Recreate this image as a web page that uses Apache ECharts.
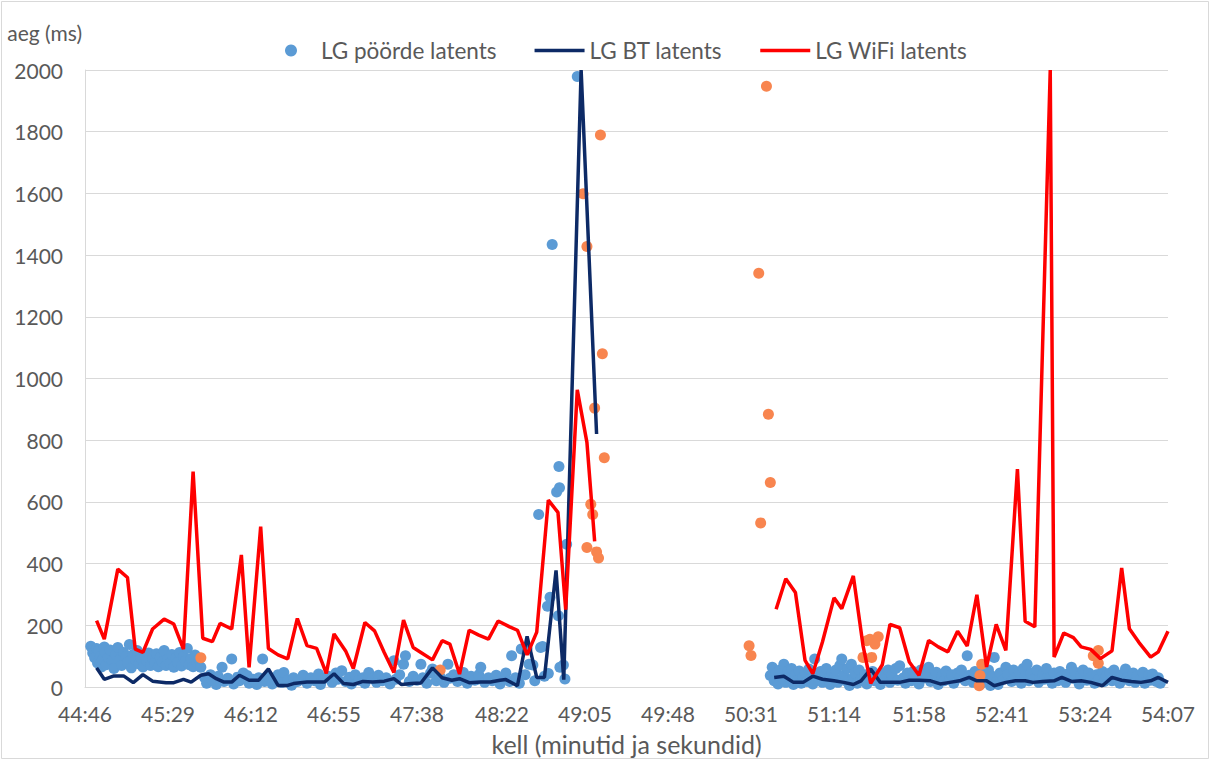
<!DOCTYPE html>
<html>
<head>
<meta charset="utf-8">
<script src="https://cdn.jsdelivr.net/npm/echarts@6/dist/echarts.min.js"></script>
<style>html,body{margin:0;padding:0;background:#fff}#c{width:1211px;height:761px}</style>
</head>
<body>
<div id="c"></div>
<script>
// x values are seconds after 44:46
const tickLabels = ['44:46','45:29','46:12','46:55','47:38','48:22','49:05','49:48','50:31','51:14','51:58','52:41','53:24','54:07'];
const yTicks = {min: 0, max: 2000, step: 200};

const poordeLatents = [
[3,132],[4,110],[5,95],[6,125],[6.5,78],[7,118],[8,100],[8.5,65],[9,88],[10,130],[10.5,112],[11,72],[12,95],[13,120],[14,85],[15,60],[16,105],[17,128],[18,90],[19,70],[20,112],[21,98],[22,80],[23,138],[24,62],[25,105],[26,88],[27,118],[28,75],[29,95],[30,65],[31,102],[32,85],[33,110],[34,70],[35,92],[36,78],[37,108],[38,66],[39,96],[40,82],[41,118],[42,70],[43,90],[44,76],[45,105],[46,64],[47,94],[48,80],[49,112],[50,68],[51,98],[52,84],[53,125],[54,72],[55,92],[56,66],[57,104],[58,80],[59,90],[60,64],
[62,30],[63,12],[65,40],[66,22],[68,8],[69,35],[71,64],[72,18],[74,28],[76,91],[77,10],[79,32],[80,20],[82,45],[84,37],[85,12],[87,25],[89,8],[90,30],[92,91],[93,18],[95,35],[97,10],[98,26],[100,40],[102,15],[103,47],[105,22],[107,6],[108,30],[110,18],[112,26],[113,38],[115,12],[117,30],[119,20],[121,42],[122,8],[124,28],[126,35],[128,15],[130,45],[131,25],[133,53],[135,18],[137,32],[138,10],[140,40],[142,22],[144,30],[145,12],[147,47],[149,28],[151,15],[152,38],[154,20],[156,30],[158,10],[160,85],[161,25],[163,40],[165,74],[166,101],[168,18],[170,35],[172,22],[174,74],[175,30],[177,12],[179,45],[180,58],[182,20],[184,32],[186,15],[188,74],[189,28],[191,40],[193,18],[195,30],[196,47],[198,12],[200,35],[202,22],[204,40],[205,64],[207,15],[209,30],[211,20],[213,38],[215,10],[216,28],[218,45],[220,18],[221,101],[223,30],[225,12],[226,123],[228,40],[229,124],[230,74],[232,71],[233,20],[235,559],[236,128],[237,131],[238,35],
[240,44],[239.6,262],[240.9,291],[242,1434],[244.3,632],[245.2,231],[245.5,715],[245.8,646],[246,64],[247.8,71],[248.6,26],[249.5,463],[255,1979],
[355,37],[356,64],[357,20],[358,45],[359,10],[360,55],[361,30],[362,74],[363,15],[364,50],[365,28],[366,60],[367,8],[368,40],[369,22],[370,52],[371,12],[372,35],[373,45],[374,18],[375,58],[376,28],[377,10],[378,91],[379,40],[380,22],[381,50],[382,15],[383,35],[384,60],[385,25],[386,8],[387,45],[388,30],[389,55],[390,15],[391,70],[392,91],[393,38],[394,20],[395,60],[396,5],[397,74],[398,30],[399,45],[400,12],[401,55],[402,25],[404,40],[405,10],[406,30],[408,50],[409,20],[410,35],[412,8],[413,45],[414,25],[416,55],[417,15],[418,38],[420,60],[421,22],[422,69],[424,30],[425,12],[426,45],[428,20],[429,50],[430,35],[432,10],[433,55],[434,28],[436,40],[437,64],[438,18],[440,30],[441,48],[442,8],[444,35],[445,20],[446,52],[448,25],[449,40],[450,12],[452,45],[453,30],[454,55],[456,20],[457,101],[458,38],[460,15],[461,50],[462,28],[464,10],[465,42],[466,22],[468,55],[469,5],[470,35],[471,96],[472,15],[473,8],[474,45],[476,25],[477,64],[478,40],[480,18],[481,55],[482,30],[484,48],[485,12],[486,60],[487,35],[488,74],[489,20],[490,45],[492,28],[493,55],[494,15],[496,40],[497,25],[498,60],[500,30],[501,12],[502,45],[504,20],[505,50],[506,35],[508,15],[509,42],[511,64],[512,28],[513,48],[515,10],[516,38],[517,55],[519,22],[520,45],[521,30],[523,12],[524,40],[525,25],[527,50],[528,18],[529,35],[531,45],[532,20],[533,55],[535,28],[536,12],[537,40],[539,58],[540,30],[541,20],[543,45],[544,15],[545,35],[547,25],[548,48],[549,12],[551,38],[552,22],[553,42],[555,18],[556,30],[557,12]
];

const poordeLisapunktid = [
[60,95],[184,55],[258,1599],[260,1428],[267,1789],[268,1080],[264,904],[269,743],[262,592],[263,559],[260,452],[265,438],[266,418],
[353,1947],[349,1341],[354,884],[355,663],[350,532],[344,134],[345,102],
[403,96],[407.5,96],[406.6,155],[410.9,163],[409.2,139],[404.9,150],
[464.5,74],[463.6,37],[463.2,4],[522.3,101],[524.9,118],[524.9,77]
];

const btLatents = [
[6,62],[10,25],[15,36],[20,36],[25,14],[30,40],[35,19],[42,14],[46,14],[51,25],[55,16],[60,38],[64,43],[68,27],[72,16],[76,16],[80,38],[85,22],[90,22],[95,59],[100,5],[105,5],[108,11],[115,16],[124,16],[129,43],[134,11],[139,8],[144,18],[149,16],[155,19],[160,27],[164,8],[169,11],[174,13],[180,62],[185,30],[190,22],[194,27],[199,14],[205,16],[210,16],[215,22],[218,24],[224,4],[229,164],[234,31],[238,31],[244,378],[248,24],[257,2000],[265,820],
[300,null],
[357,31],[362,35],[367,15],[372,15],[377,35],[382,25],[388,20],[393,15],[398,8],[402,20],[407,58],[412,15],[417,15],[422,15],[427,22],[432,22],[438,20],[443,10],[448,15],[453,20],[458,31],[462,20],[467,20],[471,4],[477,15],[482,20],[487,20],[491,15],[496,18],[502,20],[506,31],[511,18],[516,20],[521,15],[527,4],[532,31],[537,22],[542,18],[547,15],[552,20],[556,31],[561,15]
];

const wifiLatents = [
[6,215],[10,155],[17,382],[22,355],[26,123],[30,112],[35,188],[41,220],[46,204],[51,123],[56,698],[61,158],[66,147],[70,206],[76,188],[81,428],[85,64],[91,520],[95,125],[100,104],[105,91],[110,222],[115,134],[120,125],[125,44],[129,172],[135,117],[139,60],[145,209],[150,182],[155,112],[160,47],[165,217],[170,128],[174,112],[180,88],[185,150],[189,139],[194,42],[199,184],[204,168],[209,155],[214,214],[220,195],[224,184],[229,104],[234,178],[240,606],[245,566],[249,251],[255,963],[260,793],[264,472],
[300,null],
[358,252],[363,351],[368,306],[373,86],[377,43],[382,146],[388,289],[392,254],[398,360],[403,135],[407,12],[413,72],[417,203],[422,192],[427,81],[432,38],[437,151],[442,130],[447,114],[452,181],[457,133],[462,299],[467,65],[472,203],[477,119],[483,706],[487,213],[492,195],[500,2000],[502,97],[507,175],[512,160],[516,130],[521,122],[526,92],[532,117],[537,386],[541,189],[546,144],[552,97],[556,114],[561,181]
];

function toSec(t){ const p=t.split(':'); return (+p[0])*60 + (+p[1]); }
const base = toSec(tickLabels[0]);
const tickPos = tickLabels.map(t => toSec(t) - base);
function fmt(v){ const s = Math.round(v) + base; const m = Math.floor(s/60), ss = s%60; return m + ':' + (ss<10?'0':'') + ss; }

const FONT = "Lato, 'Open Sans', sans-serif";
const TXT = '#595959';
const LINE_ICON = 'path://M0,0H50V3.5H0Z';
const chart = echarts.init(document.getElementById('c'), null, {renderer:'svg'});
chart.setOption({
  animation: false,
  backgroundColor: '#fff',
  textStyle: {fontFamily: FONT, color: TXT},
  graphic: [{type:'rect', shape:{x:1.5,y:1.5,width:1207,height:757}, style:{fill:'none', stroke:'#D9D9D9', lineWidth:1}, silent:true}],
  legend: {
    data: [
      {name: 'LG pöörde latents', icon: 'circle'},
      {name: 'LG BT latents', icon: LINE_ICON},
      {name: 'LG WiFi latents', icon: LINE_ICON}
    ],
    left: 280, top: 34,
    itemWidth: 50, itemHeight: 12, itemGap: 38,
    textStyle: {fontFamily: FONT, fontSize: 22.5, color: TXT}
  },
  grid: {left: 85, right: 43, top: 70, bottom: 73, containLabel: false},
  xAxis: {
    type: 'value', min: tickPos[0], max: tickPos[tickPos.length-1],
    name: 'kell (minutid ja sekundid)', nameLocation: 'middle', nameGap: 44,
    nameTextStyle: {fontFamily: FONT, fontSize: 25, color: TXT},
    axisLine: {show: true, lineStyle: {color: '#D9D9D9', width: 1}},
    axisTick: {show: false, customValues: tickPos},
    splitLine: {show: false},
    axisLabel: {customValues: tickPos, formatter: fmt, fontFamily: FONT, fontSize: 21, color: TXT, margin: 16}
  },
  yAxis: {
    type: 'value', min: yTicks.min, max: yTicks.max, interval: yTicks.step,
    name: 'aeg (ms)', nameLocation: 'end', nameGap: 27,
    nameTextStyle: {fontFamily: FONT, fontSize: 21, color: TXT, align: 'right', verticalAlign: 'bottom', padding: [0, 3, 0, 0]},
    axisLine: {show: true, lineStyle: {color: '#D9D9D9', width: 1}},
    axisTick: {show: false},
    splitLine: {show: true, lineStyle: {color: '#D9D9D9', width: 1}},
    axisLabel: {formatter: v => String(v), fontFamily: FONT, fontSize: 21, color: TXT, margin: 22}
  },
  series: [
    {name: 'LG pöörde latents', type: 'scatter', data: poordeLatents, symbol: 'circle', symbolSize: 11,
     itemStyle: {color: '#5B9BD5', opacity: 1}, z: 2},
    {name: 'pöörde lisapunktid', type: 'scatter', data: poordeLisapunktid, symbol: 'circle', symbolSize: 11,
     itemStyle: {color: '#F8854F', opacity: 1}, z: 2},
    {name: 'LG BT latents', type: 'line', data: btLatents, symbol: 'none', connectNulls: false,
     lineStyle: {color: '#0D2A66', width: 3.5}, itemStyle: {color: '#0D2A66'}, z: 3},
    {name: 'LG WiFi latents', type: 'line', data: wifiLatents, symbol: 'none', connectNulls: false,
     lineStyle: {color: '#FF0000', width: 3.5}, itemStyle: {color: '#FF0000'}, z: 4}
  ]
});
</script>
</body>
</html>
